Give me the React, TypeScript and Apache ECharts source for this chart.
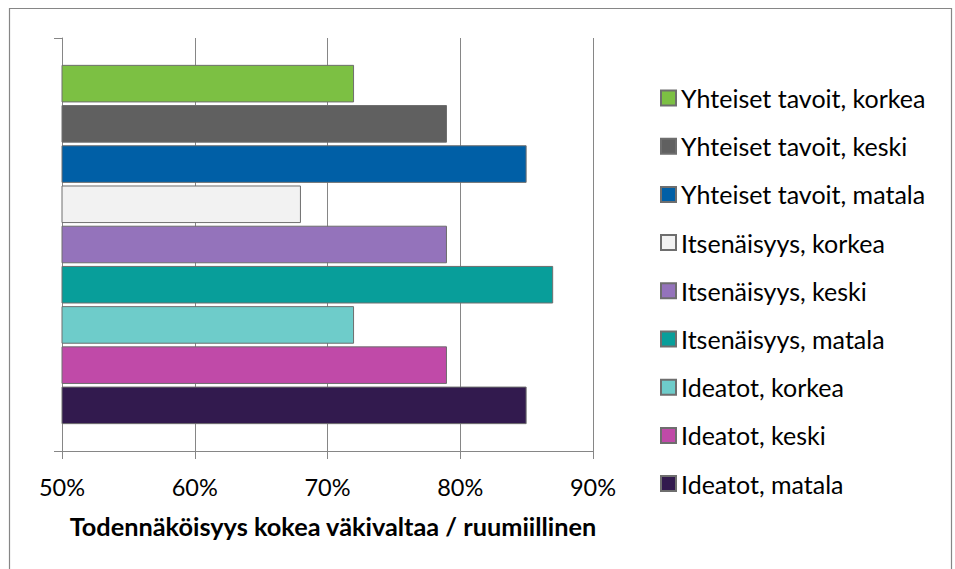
import React, { useEffect, useRef } from "react";
import * as echarts from "echarts";

const categories = [""];
const seriesNames = [
  "Yhteiset tavoit, korkea",
  "Yhteiset tavoit, keski",
  "Yhteiset tavoit, matala",
  "Itsenäisyys, korkea",
  "Itsenäisyys, keski",
  "Itsenäisyys, matala",
  "Ideatot, korkea",
  "Ideatot, keski",
  "Ideatot, matala",
];
const seriesValues = [72, 79, 85, 68, 79, 87, 72, 79, 85];
const seriesColors = [
  "#7CC043",
  "#606060",
  "#005FA6",
  "#F2F2F2",
  "#9473BB",
  "#089E9A",
  "#6ECCCA",
  "#C04AA8",
  "#321A4E",
];
const xTicks = { min: 50, max: 90, interval: 10 };
const axisTitle = "Todennäköisyys kokea väkivaltaa / ruumiillinen";

const FONT = "Lato";
const GRAY = "#868686";

export default function App() {
  const ref = useRef<HTMLDivElement>(null);
  useEffect(() => {
    if (!ref.current) return;
    const chart = echarts.init(ref.current, null, { renderer: "svg" });
    chart.setOption({
      animation: false,
      backgroundColor: "#ffffff",
      textStyle: { fontFamily: FONT },
      graphic: [
        {
          type: "rect",
          shape: { x: 9.5, y: 8.5, width: 942, height: 620 },
          style: { fill: "none", stroke: GRAY, lineWidth: 1.2 },
          silent: true,
        },
      ],
      grid: { left: 62, right: 362, top: 38, bottom: 118, containLabel: false },
      legend: {
        orient: "vertical",
        left: 660,
        top: 85.5,
        padding: 0,
        itemWidth: 15,
        itemHeight: 15,
        itemGap: 23.2,
        itemTextGap: 7,
        icon: "rect",
        textStyle: { fontFamily: FONT, fontSize: 25, color: "#000", lineHeight: 24.2 },
        data: seriesNames,
      },
      xAxis: {
        type: "value",
        min: xTicks.min,
        max: xTicks.max,
        interval: xTicks.interval,
        axisLine: { show: true, lineStyle: { color: GRAY, width: 1 } },
        axisTick: { show: true, length: 8, lineStyle: { color: GRAY } },
        splitLine: { show: true, lineStyle: { color: GRAY, width: 1 } },
        axisLabel: {
          formatter: "{value}%",
          fontFamily: FONT,
          fontSize: 23.5,
          color: "#000",
          margin: 24,
        },
        name: axisTitle,
        nameLocation: "middle",
        nameGap: 62,
        nameTextStyle: {
          fontFamily: FONT,
          fontSize: 25.3,
          fontWeight: "bold",
          color: "#000",
          padding: [0, 0, 0, 11],
        },
      },
      yAxis: {
        type: "category",
        data: categories,
        axisLine: { show: true, lineStyle: { color: GRAY, width: 1 } },
        axisTick: { show: true, length: 8, lineStyle: { color: GRAY } },
        axisLabel: { show: false },
      },
      series: seriesNames.map((name, i) => ({
        name,
        type: "bar",
        data: [seriesValues[i]],
        barCategoryGap: "13%",
        barGap: "7%",
        itemStyle: {
          color: seriesColors[i],
          borderColor: "#6E6E6E",
          borderWidth: 1,
        },
      })),
    });
    return () => chart.dispose();
  }, []);
  return (
    <div
      ref={ref}
      style={{ position: "fixed", left: 0, top: 0, width: 955, height: 569 }}
    />
  );
}
